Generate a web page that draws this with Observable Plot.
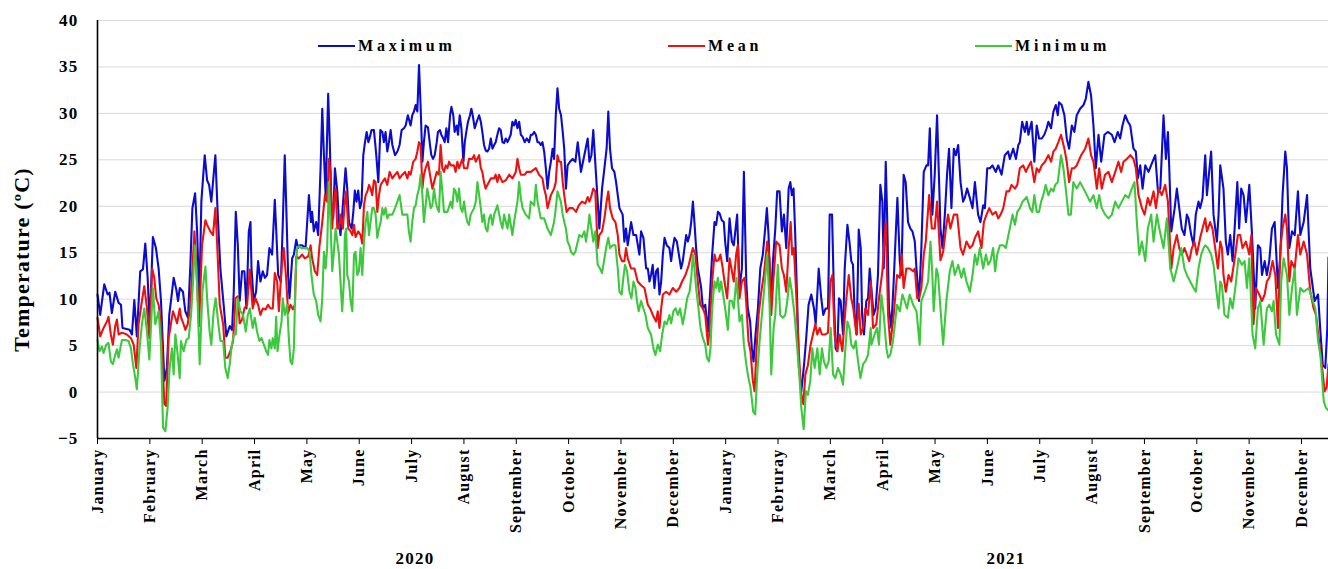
<!DOCTYPE html>
<html>
<head>
<meta charset="utf-8">
<script src="https://cdn.jsdelivr.net/npm/d3@7"></script>
<script src="https://cdn.jsdelivr.net/npm/@observablehq/plot@0.6"></script>
<style>
  body { margin: 0; background: #fff; }
  #wrap { position: relative; width: 1328px; height: 569px; background: #fff; }
  .leg { position: absolute; top: 36px; height: 20px; display: flex; align-items: center;
         font: bold 16px "Liberation Serif", "Times New Roman", serif; letter-spacing: 3.8px;
         color: #000; white-space: nowrap; }
  .leg .sw { display: inline-block; width: 37px; height: 2px; margin-right: 3px; }
</style>
</head>
<body>
<div id="wrap"></div>
<script>
// ---------- tick labels ----------
const monthLabels = ["January","February","March","April","May","June","July","August","September","October","November","December",
                     "January","Februray","March","April","May","June","July","August","September","October","November","December"];
const monthTicks = [0,31,62,93,124,155,186,217,248,279,310,341,372,403,434,465,496,527,558,589,620,651,682,713];
const yTicks = [-5,0,5,10,15,20,25,30,35,40];
const yearLabels = ["2020","2021"];
const yearTicks = [188,538];
const seriesNames = ["Maximum","Mean","Minimum"];
const seriesColors = ["#0c0ccc","#ec1212","#3ec83e"];

// ---------- series values: [day index, temperature °C] ----------
const maximum = [[0,10.5],[1.6,8.3],[4,11.6],[6,10.5],[7.1,10.7],[8.5,8.5],[10.5,10.8],[12.5,9.6],[13.9,9.4],[14.8,6.9],[19,6.7],[20.4,6.2],[21.8,9.9],[23.3,6],[25.3,13],[26.9,13.2],[28.3,16],[29.7,12.3],[30.9,7.1],[32.8,16.7],[34.6,15.5],[36.2,13.3],[37.6,9.8],[39.6,1.2],[41.1,2.6],[42.5,8.3],[43.7,10.1],[45.1,12.3],[46.7,11],[47.7,9.8],[48.7,11.2],[50.6,10.8],[52,8.7],[53.6,8],[55,13.7],[56.2,19.8],[57.8,21.4],[59,17.3],[60.3,9.8],[61.5,20.5],[63.5,25.5],[64.9,22.8],[66.1,22.3],[67.4,20.5],[69.8,25.5],[71.2,19.1],[72.8,13.2],[74.7,9.4],[76.3,6],[78.3,7.1],[79.7,6.7],[80.7,10.8],[81.9,19.4],[83.1,15.8],[84.2,9.8],[85.6,13],[87,13],[88.2,9],[89.6,17.3],[90.6,18.3],
[91.2,13.3],[92.5,9.8],[93.9,10.8],[95.1,14.1],[96.5,11.9],[97.9,13],[99.1,12.3],[100.4,12.6],[101.8,15.5],[103.4,14.8],[105,20.7],[105.8,17.6],[107,12.6],[108.6,11.9],[109.7,18],[110.9,25.5],[111.7,20.5],[112.9,12.6],[113.7,10.1],[115.3,14.4],[116.3,14.8],[117.7,16.4],[118.8,15.5],[119.8,15.8],[121.2,15.8],[123.2,15.5],[125.2,21.2],[126.4,18.3],[127.1,19.4],[128.1,17.3],[129.5,18.3],[130.7,16.9],[132.1,24.1],[133.1,30.5],[134.1,25.5],[135.1,21.2],[136.6,32.1],[137.6,26.6],[138.6,19.1],[139.6,18.7],[140.6,24.1],[142,21.6],[143,18.3],[143.9,16.9],[144.9,19.1],[145.9,21.6],[146.9,24.1],[147.9,21.9],[148.9,18.3],[150.5,17.6],[151.5,19.4],[152.4,21.7],[153.4,20.5],[154.4,21.7],[155.4,19.8],[156.4,20.5],[157.4,25.5],[158.4,26.9],[159.4,28],[160.4,26.9],[161.1,27.3],[162.3,28.2],[163.7,28.2],[165.1,25.5],[166.3,22.6],[167.5,28.2],[168.7,28],[169.6,26.9],[170.6,28],[171.6,25.9],[172.6,26.9],[173.6,28.2],[174.6,26.6],[176.2,25.5],[177.6,25.9],[178.9,26.6],[180.1,28.2],[181.5,28.4],
[182.5,28.7],[183.8,29.8],[185.4,28.7],[186.4,29.8],[187.4,30.2],[188.4,30.9],[189.4,30.2],[190.4,35.2],[191.4,30.5],[192.4,24.8],[193.3,26.9],[194.3,28.7],[195.7,28.5],[196.9,26.6],[197.7,25.5],[198.7,25.1],[199.7,25.5],[200.9,26.9],[201.6,28],[202.8,28.2],[203.6,27.7],[204.8,27.3],[205.6,26.9],[206.6,28.4],[207.6,26.9],[208.8,29.8],[209.6,30.7],[210.7,29.8],[211.5,28],[212.7,28.7],[213.5,27.7],[214.5,29.8],[215.5,28.4],[216.7,24.8],[217.5,26.9],[218.4,28],[219.4,29.1],[220.6,29.8],[221.4,30.5],[222.2,29.8],[223.4,28.4],[224.6,29.1],[226,29.8],[227,29.1],[227.9,28],[228.9,26.6],[229.9,26],[230.9,25.9],[231.9,26.2],[232.9,27.3],[233.9,26.2],[234.9,26.6],[235.8,26.9],[236.8,27.7],[237.8,28.4],[238.8,28.2],[239.8,26.9],[240.8,26.8],[241.8,27.3],[242.8,26.9],[243.8,27.3],[244.7,27.7],[245.7,29.1],[246.7,28.7],[247.7,29.3],[248.7,28.4],[249.7,29.1],[250.7,27.7],[251.7,27.5],[253,26.9],[254.2,27.3],[255.6,26.9],[256.6,27.7],[257.6,27.7],[258.6,28],[259.6,27.7],[260.6,26.9],[261.5,26.9],[262.5,26.6],[263.5,26.9],[264.5,25.9],[265.5,24.1],[266.5,21.9],[267.5,23.7],[268.5,24.8],[269.5,26.2],[270.4,25.1],[271.4,29.8],[272.4,32.7],[273.4,30.5],
[274.5,29.8],[275.5,28],[276.4,26.2],[277.4,21.9],[278.4,24.4],[279.8,24.8],[281.4,25.1],[283,24.8],[284.4,26.9],[286.3,23.7],[288.3,25.5],[290.3,27.3],[291.3,24.8],[292.5,25.5],[293.6,28.2],[295.6,22.3],[297.2,17.6],[298.8,21.9],[300.2,24.1],[301.5,26.2],[302.5,30.2],[303.5,26.2],[304.7,24.1],[306.1,23.7],[307.1,22.6],[309.1,19.8],[311,19.1],[312,16.2],[313,17.6],[314,15.8],[316,18.3],[317.4,16.9],[319,16.9],[320.9,14.8],[321.9,17.3],[323.3,16.6],[324.9,13.3],[325.9,13.3],[326.9,11.9],[327.8,12.6],[328.8,13.7],[329.8,11.2],[330.8,13],[331.8,13.3],[332.8,10.5],[333.8,11.9],[334.8,14.8],[335.8,16.6],[337.1,15.8],[338.7,15.5],[339.7,14.1],[340.7,15.5],[341.7,16.6],[343.1,16.2],[344.3,14.8],[345.6,13.3],[346.6,14.1],[347.6,15.5],[348.6,16.9],[349.6,16.2],[350.6,16.9],[351.6,18.3],[352.6,20.5],[353.5,18.3],[354.5,15.5],[355.5,13.3],[356.5,12.3],[357.5,11.2],[358.5,9],[359.9,9.4],[361.5,6.5],[362.8,10.8],[364,14.8],[365.4,18.3],
[366.4,18],[367.4,19.4],[368.5,19.2],[369.7,18.5],[370.9,18.3],[371.7,16.2],[372.9,14.1],[374.3,18.7],[375.7,16.2],[376.8,15.8],[378.8,19.1],[380.2,11.2],[381.6,13.3],[382.8,23.7],[384.2,11.9],[385.1,9],[386.5,7.6],[387.5,4.7],[388.5,3.3],[389.7,6.2],[391.1,9],[392.5,13.3],[394,14.8],[395.4,17.6],[396.4,19.8],[397.4,16.9],[398.6,9],[400,14.1],[401.4,17.6],[402.5,21.6],[403.9,21.6],[405.3,17.3],[406.5,19.1],[407.9,15.5],[409.3,21.9],[410.3,22.6],[411.2,21.2],[412.2,21.9],[413.2,16.9],[414.4,9.4],[415.4,2.6],[416.8,0.1],[418.4,2.9],[419.7,5.8],[421.1,9.4],[422.7,10.5],[424.3,9],[425.3,7.3],[427.1,13.3],[428.6,10.1],[429.8,8.3],[431.2,9],[432.6,9],[433.6,19.1],[435,19.1],[436.2,9.8],[437.1,4.7],[438.1,4.4],[439.1,10.1],[440.1,9.8],[441.5,6.2],[442.5,13.3],[444.1,18],[445.3,16.2],[446.4,14.1],[447.4,13.7],[448.4,8.3],[449.6,6.2],[450.8,17.5],[452,15.5],[452.8,8.3],[453.9,6.2],[455.3,9.8],[456.3,10.1],[457.3,13.3],
[458.9,9.8],[459.6,8.3],[460.8,9],[462.2,12.6],[463.6,22.3],[464.8,20.5],[465.6,13.3],[466.8,24.8],[467.6,19.1],[468.7,9],[470.1,6.9],[471.5,11.9],[472.7,16.9],[473.7,20.9],[475.1,14.1],[476.1,12.6],[477.4,23.4],[478.6,22.6],[480,18.3],[481.4,17.6],[482.6,17.3],[484,16.2],[485,13.3],[486.5,9.8],[487.9,15.5],[489.3,23.7],[490.9,24.4],[491.9,24.4],[492.9,28.4],[494.4,19.1],[495.8,23.4],[497.2,29.8],[498.4,22.6],[499.2,17.6],[500.4,15.5],[501.8,19.1],[503.1,23.4],[504.3,26.2],[505.7,19.8],[507.1,26.2],[508.3,25.5],[509.7,26.6],[511.1,22.6],[512.6,20.5],[513.6,20.9],[515,21.9],[516.6,20.9],[518.2,19.8],[519.6,22.6],[521.5,19.1],[522.9,18.3],[524.5,20.1],[525.5,19.8],[526.9,24.1],[528.5,24.1],[530,24.4],[532,23.7],[533.4,24.4],[535.4,23.4],[537.3,25.5],[539.3,25.9],[540.3,25.1],[542.3,26.2],[543.9,25.1],[545.3,26.6],[546.2,26.9],[547.6,29.1],[549.2,28],
[550.3,29.1],[551.3,27.7],[552.2,28.4],[553.2,29.1],[554.8,24.8],[556.2,28.7],[557.6,27.3],[559.2,27.3],[560.7,27.7],[562.1,28.4],[563.1,29.1],[564.7,28.4],[566.1,30.2],[567.5,30.9],[568.7,29.8],[569.4,31.2],[571,30.9],[572.6,29.8],[574,27.3],[575.4,26.2],[577,28.7],[578.5,28],[579.9,29.8],[581.9,30.5],[583.9,30.9],[585.3,31.6],[586.8,33.4],[588.4,31.9],[589.8,28.7],[591.2,24.1],[592.8,27.7],[594.4,24.8],[596.3,27.7],[598.3,28],[600.7,27.7],[602.3,26.9],[604.2,28],[605.6,27.3],[607,28.7],[608.6,29.8],[610.2,29.1],[611.6,28.7],[613.5,26.2],[614.9,25.9],[616.1,23],[617.5,24.4],[618.9,21.9],[620.5,24.4],[622.4,23.7],[624.8,24.8],[626.4,25.5],[628,21.6],[629.4,21.9],[631.3,29.8],[632.7,25.1],[633.9,28],[634.7,24.1],[635.9,17.3],[637.9,19.8],
[639.2,21.9],[640.6,19.8],[642.1,17.6],[643.7,16.9],[645.1,19.1],[646.1,18.7],[647.7,16.9],[649.1,15.8],[650.4,19.1],[652,20.5],[653,19.8],[654.4,20.9],[656,25.5],[657,21.2],[659.5,25.9],[660.9,19.1],[662.9,16.2],[663.9,19.1],[664.9,24.4],[666.8,21.9],[668.2,16.2],[669.4,14.8],[670.8,16.9],[672.2,14.1],[673.4,17.6],[675,22.6],[676.1,17.6],[677.3,21.9],[678.7,21.2],[680.1,18.3],[682.1,22.3],[683.6,17.3],[684.6,13.3],[685.6,9],[687.2,15.8],[688.6,15.5],[689.6,12.6],[691.2,14.1],[692.5,12.6],[693.9,14.1],[695.5,17.6],[697.1,18.3],[699.1,11.2],[700.5,14.8],[701.8,21.2],[703.4,25.9],[704.4,24.1],[705.8,15.5],[707.4,17.3],[709,16.9],[710.9,21.6],[712.3,16.9],[714.3,18.3],[716.3,21.2],[718.2,13.3],[720.8,9.8],[722.8,10.5],[724.2,6.5],[725.6,2.9],[727.1,2.6],[728.3,6.9],[729,14.5]];

const mean = [[0,8],[1.6,6],[3.6,6.9],[5.6,7.6],[6.5,8.1],[7.9,6.2],[9.1,5.1],[10.5,7.1],[11.5,7.8],[12.5,6.2],[14.5,6.4],[17.4,6.2],[19.8,5.8],[21.4,5.1],[23,2.6],[24.3,7.3],[26.3,9.8],[27.7,11.4],[29.3,9],[30.7,5.8],[32.4,13.3],[33.6,12.3],[34.8,10.1],[36.2,9.4],[37.6,7.3],[39.6,-1.3],[40.7,-1.5],[42.1,5.8],[43.1,6.9],[44.7,8.7],[46.1,8],[47.1,7.4],[48.7,9],[49.4,8.1],[51,7.3],[52,6.7],[53.4,7.3],[55,9.4],[56,12.6],[57.4,17.3],[58.5,13.7],[60.1,7.1],[61.9,15.8],[63.9,18.5],[64.9,18],[66.8,17.3],[68.4,16.9],[69.8,19.8],[70.8,16.2],[72.4,9.4],[74.4,7.3],[75.7,3.7],[77.1,3.7],[78.7,4.4],[80.3,5.5],[81.7,10.1],[83.1,10.3],[84.2,7.4],[85.6,7.8],[87,9],[88.6,9.4],[90.2,13.2],
[91.9,9],[93.5,10.1],[95.1,9.4],[96.5,8.3],[97.9,9],[99.5,8.9],[101,9.4],[102.4,9],[103.8,9],[105,12.8],[106.4,11.9],[107.4,8.7],[109,13.3],[110.3,15.5],[111.7,12.3],[112.9,8.5],[114.3,9.4],[115.7,8.9],[116.9,9.4],[117.7,14.6],[119.2,14.4],[121.2,14.8],[122.8,14.4],[124.8,14.6],[126.2,15.8],[127.1,14.4],[128.7,13],[130.1,12.6],[131.5,15.8],[133.1,18.3],[134.7,21.2],[136,20.5],[137,25.1],[138,23.7],[139,17.6],[140,20.5],[141,21.9],[142,17.6],[143,17.6],[143.9,19.1],[145.3,17.6],[146.5,20.5],[147.3,21.6],[148.5,17.6],[149.9,17.3],[150.9,16.9],[151.9,18],[152.8,16.7],[154.4,17.3],[155.8,16.9],[156.8,16],[157.8,20.1],[158.8,21.2],[159.8,21.6],[160.8,22.3],[161.7,21.9],[162.7,21.2],[163.7,22.8],[164.7,22.6],[165.7,19.4],[166.7,21.2],[167.7,22.3],[168.7,22.6],[170.2,23],[171.6,22.3],[173,23.7],[174.6,23],[176.2,23.4],[177.6,23.7],[178.9,23],[180.5,23.4],[182.1,23.7],
[183.5,23],[184.4,23.7],[185.4,23.4],[187,24.8],[188.4,25.1],[189.4,25.9],[190.4,26.9],[191.4,26.6],[192.4,21.9],[193.3,23.4],[194.3,24.1],[195.7,24.8],[196.9,23.4],[198.3,21.9],[199.3,22.6],[200.9,23.7],[202.2,23.4],[203.2,26.6],[204.2,24.1],[205.2,23.7],[206.2,24.4],[207.2,24.1],[208.2,24.8],[209.2,24.4],[211.1,24.4],[212.1,23.7],[213.1,24.8],[214.1,24.1],[216.1,25.1],[217.1,24.1],[219,24.1],[220,25.1],[222,25.1],[223,25.5],[224,24.8],[226,25.5],[227,24.1],[227.9,23.7],[228.9,22.6],[229.9,21.9],[230.9,22.3],[232.9,23],[234.9,23],[235.8,23.4],[236.8,22.6],[237.8,23.4],[239.8,22.6],[241.8,22.8],[243.8,23.4],[245.7,23],[247.7,23.7],[248.7,25.1],[249.7,24.1],[250.7,23.4],[253,23.4],[254.2,23.7],[256.6,23.7],[259.6,24.1],[261.5,23.4],[263.5,23],[264.5,21.9],[265.5,21.2],[266.5,19.8],[267.5,20.5],[268.5,21.2],[270.4,21.9],[271.4,22.6],[272.4,25.5],[273.4,24.8],
[274.5,24.8],[275.5,22.6],[276.4,21.2],[277.8,19.4],[279.4,19.8],[281.4,19.8],[283.4,19.4],[285,20.1],[286.9,20.5],[288.9,20.3],[290.3,21],[291.3,20.5],[292.3,21],[293.6,21.9],[294.8,21.6],[296.2,15.5],[297.2,16.9],[298.8,17.3],[300.2,18.7],[301.5,20.5],[302.5,21.6],[303.5,19.8],[305.1,18.7],[306.7,18.3],[308.1,16.9],[309.1,14.8],[310.6,14.1],[312,14.1],[313,15.5],[314,14.4],[316,13.3],[318,13.3],[319.9,11.9],[321.9,11.5],[323.9,11.2],[325.9,9.4],[327.3,9],[328.8,8.3],[330.8,7.6],[331.8,8.7],[332.8,6.9],[333.8,9],[334.8,10.5],[336.7,10.8],[338.7,10.5],[340.7,11.2],[342.7,10.8],[344.6,11.2],[346.2,11.9],[348.2,12.6],[350.2,13.7],[351.6,14.8],[352.6,15.5],[354.1,14.8],[355.5,11.9],[356.9,9.4],[358.5,9],[359.9,8.3],[361.5,5.1],[362.4,6.5],[364,11.9],[365.4,14.8],
[366.4,14.1],[367.8,14.2],[368.9,14.8],[370.3,13.3],[371.3,11.9],[372.9,10.1],[374.3,14.4],[375.7,13],[376.8,11.9],[378.2,14.8],[379.2,15.8],[380.2,10.1],[381.6,11.9],[383.2,12.3],[384.4,9],[385.5,5.5],[386.7,4.4],[388.1,1.2],[389.1,0.1],[390.3,4.7],[391.5,8.3],[393.1,10.8],[394.6,12.6],[396.6,16.2],[398,14.4],[399,8.3],[400.2,11.9],[401.9,16.2],[403.9,15.8],[405.3,13.3],[406.5,12.6],[407.9,10.8],[409.3,15.5],[410.5,18.3],[411.4,14.8],[412.4,15.5],[413.8,10.5],[415.2,4.7],[416.8,-0.3],[418,-1.3],[419.2,1.9],[420.7,2.9],[422.3,5.1],[423.7,6.2],[425.1,7.3],[426.3,6.2],[427.7,6.9],[429,6.2],[431,6.2],[432.6,6.4],[434,11.9],[435.2,12.6],[436.5,6.2],[438.1,4.4],[439.5,6.2],[441.1,4.4],[442.5,7.9],[443.5,10.1],[444.9,12.6],[446.4,10.1],[447.6,9],[449.4,6.2],[450.8,9.5],[452,6.2],[453.4,6.9],[454.7,9],[456.3,8.3],[457.9,11.9],
[459.3,6.9],[461.2,7.3],[462.8,10.1],[464.8,13],[466.8,18.3],[468.2,8.3],[469.5,5.1],[471.5,8.3],[473.5,12.6],[475.1,12.3],[476.3,14.8],[477.4,11.2],[479,13.3],[481,13.3],[483,13],[484,13.3],[485.4,10.1],[486.5,10.1],[487.9,11.2],[489.3,14.8],[490.5,16.2],[492.5,21.2],[494.1,17.6],[495.8,17.6],[497.2,20.5],[499.2,14.2],[500.8,15.1],[502.4,17.6],[503.7,19.1],[505.1,17.6],[507.1,19.1],[509.1,19.1],[511.1,15.5],[512.6,14.8],[514.6,16.2],[516.6,15.5],[518.2,15.8],[519.6,16.6],[521.5,17.3],[523.5,15.5],[524.9,18.3],[526.5,19.1],[528.1,19.8],[530,19.1],[532,19.4],[533.4,18.7],[534.8,19.1],[536.4,19.8],[538.3,21.6],[539.9,21.6],[541.3,22.3],[543.3,21.9],[544.7,22.3],[546.2,24.1],[548.2,24.4],[549.8,23.7],
[551.6,24.4],[552.8,24.8],[554.8,22.6],[556.2,24.1],[557.6,23.7],[559.2,24.4],[561.1,24.8],[563.1,25.5],[564.7,24.8],[566.1,25.9],[567.5,26.2],[569,26.9],[570.6,27.7],[572.6,26.2],[574,24.8],[575.4,22.6],[577,24.1],[578.5,24.1],[579.9,24.4],[582.5,25.5],[584.9,26.2],[586.8,27.3],[588.4,25.5],[589.8,24.8],[591.8,21.9],[593.2,24.1],[594.7,21.9],[596.7,23.4],[598.7,23.7],[600.7,22.6],[602.7,23.7],[604.6,24.8],[606.2,23.7],[607.6,24.8],[609.6,25.1],[611.6,25.5],[613.5,25.1],[614.9,24.1],[616.5,21.2],[618.5,19.8],[620.1,19.1],[622,20.9],[623.4,20.1],[625.4,21.6],[626.8,19.8],[628.4,21.9],[630.3,21.2],[632.3,22.3],[633.9,20.5],[635.9,13.3],[637.3,15.5],
[639.2,16.9],[640.6,15.5],[642.1,14.8],[643.7,15.5],[645.1,14.8],[646.5,14.1],[648.1,15.5],[649.6,16.2],[651,14.8],[653,16.6],[654.4,17.6],[656,18.7],[657,17.3],[658.9,18.3],[660.3,17.6],[661.9,15.5],[663.5,13.3],[664.9,16.2],[665.9,15.5],[666.8,12.6],[668.2,10.8],[669.8,12.6],[671.4,11.9],[673.8,14.8],[675.3,16.9],[676.7,16.9],[678.1,15.5],[680.1,16.2],[682.1,14.8],[683.3,16.9],[684.6,7.3],[686,11.2],[688,10.5],[689.6,9.8],[691.2,10.5],[692.5,11.9],[693.9,12.3],[695.9,14.1],[697.5,12.6],[699.1,6.9],[700.5,15.5],[701.8,17.6],[703.4,19.1],[704.4,17.6],[705.8,11.9],[707,14.1],[709,13.3],[710.9,16.9],[712.3,14.8],[714.3,16.2],[716.3,14.8],[718.2,10.8],[720.2,9],[721.6,8.3],[723.2,5.8],[724.8,3.3],[726.7,0.1],[727.9,0.5],[729,3]];

const minimum = [[0,5.6],[1.2,4.4],[2.6,4.9],[3.6,4.2],[5.2,5.1],[6.5,5.3],[7.9,3.3],[9.1,3],[10.5,4],[11.5,4.6],[12.5,3.7],[13.5,4.7],[14.5,5.6],[16.4,5.6],[18.4,5.5],[19.8,4.7],[21,3],[22.4,1.5],[23.3,0.3],[24.9,4.7],[26.3,7.3],[27.7,9],[29.3,6.5],[30.7,3.5],[32.8,11.2],[34.2,7.3],[36.2,8.7],[37.6,5.1],[38.8,-3.8],[40.2,-4.2],[41.5,-1.7],[42.7,2.6],[44.1,4.7],[45.1,1.9],[46.1,6.2],[47.5,4],[48.7,1.5],[49.4,5.5],[51,4.4],[52.6,5.6],[54,5.8],[55.4,8.3],[56.6,11.9],[57.6,15.8],[59,11.5],[60.5,3],[62.1,10.8],[63.9,13.5],[64.9,10.1],[66.4,6.5],[67.4,5.1],[68.8,8.7],[70,10.1],[71.4,7.6],[72.8,5.5],[74.4,5.5],[75.7,2.6],[77.1,1.5],[78.3,3],[79.3,4.7],[80.7,6.2],[81.9,6.2],[83.1,10.1],[84.6,8.7],[86.2,8.3],[87.8,6.5],[89,8.3],[90.2,9],
[91.9,6.9],[93.1,8],[94.5,6.5],[95.9,5.5],[97.1,5.8],[98.5,5.1],[99.9,4.4],[101,4],[101.8,5.6],[103,4.7],[103.8,5.8],[105,4.7],[105.8,8.1],[106.6,4.4],[107.8,6.2],[109,7.6],[109.7,10.1],[110.9,8.3],[112.3,9.4],[113.3,5.8],[114.3,3.3],[115.3,3],[116.3,4.7],[117.3,12.6],[118.2,15.5],[119.2,15.7],[120.8,15.5],[122.2,15.5],[124.2,15.5],[125.6,15.1],[126.7,12.6],[128.1,10.5],[129.5,9.8],[130.7,8.3],[132.1,7.6],[133.1,10.1],[134.1,15.1],[135.1,13.3],[136,15.5],[137,22.6],[138,18.3],[139,13],[140,15.1],[141,17.6],[142,16.2],[143,14.8],[143.9,11.9],[144.9,8.7],[145.9,11.9],[146.5,16.9],[147.3,17.6],[147.9,12.6],[148.9,11.9],[149.9,9.8],[150.9,8.7],[151.9,14.8],[152.8,15.1],[153.8,12.6],[154.8,13],[155.8,15.5],[156.8,12.6],[157.8,16.2],[158.8,18.3],[159.8,19.4],[160.8,16.9],[161.7,18.3],[162.7,19.8],[163.7,19.8],[164.7,19.1],[165.7,16.6],[166.7,17.6],[167.7,18.3],[168.7,19.8],[169.6,19.1],[170.6,19.8],[171.6,18.7],[172.6,19.1],[174.6,19.1],[176.2,19.8],[177.6,20.5],[178.9,21.2],[180.5,19.1],
[183.5,19.1],[184.4,17.3],[185.4,16.2],[186.4,18.3],[187.4,19.8],[188.4,20.1],[189.4,21.2],[190.4,21.9],[191.4,23.4],[192.4,21.2],[193.3,18.3],[194.3,20.1],[195.3,21.9],[196.3,20.9],[197.3,19.8],[198.3,20.1],[199.3,21.9],[200.3,20.5],[201.2,19.8],[202.2,19.4],[203.2,23.7],[204.2,21.6],[205.2,19.4],[207.2,19.4],[209.2,20.5],[210.1,19.8],[211.1,21.9],[212.1,21.6],[213.1,20.5],[214.1,21.9],[215.1,19.8],[216.1,19.4],[217.1,20.5],[218.1,19.1],[219,18.3],[220,18],[221,19.1],[223,19.8],[224,20.5],[225,22.6],[226,21.2],[227,19.8],[227.9,18.3],[228.9,19.1],[229.9,17.6],[230.9,17.3],[231.9,18.7],[232.9,19.1],[233.9,18],[234.9,19.1],[236.8,20.1],[238.8,18.3],[239.8,17.6],[240.8,19.1],[242.8,17.6],[243.8,19.1],[245.7,16.9],[246.7,18.3],[248.7,20.5],[249.7,22.6],[250.7,20.9],[251.7,19.8],[253.6,19.1],[255.6,18.7],[256.6,20.5],[258.6,20.1],[259.6,22.3],[260.6,20.5],[262.5,18.7],[264.5,18.7],[266.5,17.6],[268.5,16.9],[270.4,18.3],[271.4,19.8],[272.4,21.6],[274.4,20.5],
[275.5,19.1],[276.4,18.3],[277.4,17.6],[278.4,16.2],[279.4,15.8],[280.4,15.1],[281.8,14.8],[283,15.1],[284.4,16.2],[285.3,16.9],[286.9,16.7],[288.3,17.3],[289.3,16.2],[290.7,18],[291.3,19.1],[292.5,17.6],[293.6,16.2],[294.8,17.3],[296.2,13.7],[297.6,13.3],[298.8,12.8],[300.2,14.4],[301.5,15.8],[302.5,16.6],[303.5,15.5],[305.1,15.8],[306.7,15.8],[308.1,13.3],[309.1,10.8],[310.4,10.5],[311.4,12.3],[312.4,13.7],[313.6,13],[315,10.8],[316.2,10.1],[317.4,11.9],[318.6,11.2],[319.5,9.8],[320.5,8.7],[321.9,9.8],[323.3,9],[324.5,8.3],[325.9,6.9],[327.8,6.2],[329.2,4.7],[330.4,4],[331.8,5.1],[333.2,4.4],[334.4,6.2],[335.8,7.6],[337.1,7.3],[338.7,8.3],[339.7,7.4],[341.1,8.7],[342.3,9],[343.7,8.3],[345,9],[346.6,7.3],[348,8.7],[349.2,10.1],[350.6,10.8],[351.6,12.3],[352.6,14.8],[353.5,13.3],[354.5,11.2],[355.9,9],[357.1,6.9],[358.5,5.8],[359.9,5.1],[360.9,3.7],[362.1,3.3],[363,4.7],[364,9],[365.4,11.9],
[366.4,11.2],[367.4,12.3],[368.3,10.8],[369.3,11.9],[370.5,10.5],[371.7,9],[373.3,6.7],[374.3,9.8],[375.7,9.8],[376.8,9],[378.4,12.3],[380.2,7.6],[381.6,8.3],[382.8,5.1],[384.2,3],[385.5,1.5],[386.7,0.5],[388.3,-2.1],[389.5,-2.4],[390.7,1.9],[392.1,5.5],[394,9.4],[395.4,12.3],[396.6,14.8],[398,9.4],[399,1.9],[400.4,6.9],[401.4,8.3],[402.9,13.7],[404.3,8.3],[405.9,8],[407.3,8.3],[408.5,9.8],[409.9,12.3],[411.2,10.8],[412.8,8.3],[414.4,4.7],[415.6,1.9],[416.8,-1.7],[418.2,-4],[419.5,0.1],[420.7,-0.3],[422.1,1.2],[423.3,4.7],[424.7,2.6],[426.3,4.7],[427.7,1.9],[429,4.7],[430.2,3.3],[431.6,2.6],[433,3.3],[434.2,6.9],[435.6,1.9],[436.9,1.5],[438.5,2.6],[440.1,1.9],[441.5,0.8],[442.9,4.7],[444.1,7.6],[445.3,6.9],[446.4,5.1],[447.8,4.7],[449,5.5],[450.4,3.3],[451.8,1.5],[453.4,3],[454.7,3.3],[456.3,4],[457.9,6.9],
[458.3,5.1],[460.2,6.2],[461.6,6.9],[462.8,5.1],[464.2,10.5],[465.6,8.3],[467.2,4.7],[468.2,3.7],[469.5,4],[471.1,5.5],[473.5,9.4],[475.1,8.7],[476.7,10.5],[478,9.8],[479.4,9],[481,10.5],[483,9.4],[485,8.7],[486.9,5.1],[487.9,9.8],[489.9,10.8],[491.9,11.9],[493.3,16.2],[494.4,12.6],[495.2,8.7],[496.8,13.3],[497.8,12.6],[499.2,9],[500.8,5.1],[502.7,9.8],[504.7,13],[506.3,14.1],[507.7,12.6],[509.7,13.7],[511.6,12.3],[513,13.3],[514.6,11.9],[516.6,10.8],[518.2,12.6],[519.6,14.8],[520.9,13.7],[522.5,15.5],[524.5,13.3],[526.1,14.8],[527.5,13.7],[528.8,14.1],[530.4,15.5],[531.6,13],[532.8,14.8],[534.4,15.8],[536.4,15.8],[537.9,15.5],[539.9,17.3],[541.9,19.1],[543.3,18],[544.7,19.4],[546.2,19.8],[547.8,20.5],
[550.3,21],[552.2,19.8],[553.6,19.4],[554.8,21.2],[556.2,19.4],[557.6,19.4],[558.8,20.5],[560.1,21.2],[561.5,22.3],[563.1,21.2],[564.7,21.9],[566.1,21.6],[567.1,22.3],[568.7,22.6],[570.6,25.5],[572,24.1],[573.4,21.9],[575,19.1],[576.4,19.1],[577.9,22.6],[579.9,21.9],[581.9,22.6],[583.9,21.9],[585.9,21.2],[587.8,20.5],[589.8,21.2],[591.8,19.8],[593.2,21.2],[594.7,19.8],[596.7,19.1],[598.7,18.7],[600.7,19.1],[602.7,20.5],[604.6,19.8],[606.6,20.5],[608.6,21.2],[610.6,20.9],[612.5,21.9],[614.1,22.6],[615.5,18.3],[616.9,14.8],[618.5,16.2],[620.5,14.1],[622,17.6],[624,19.1],[625.4,16.2],[627.4,19.1],[628.8,17.6],[631.3,15.5],[633.3,18.7],[635.3,13.3],[637.3,11.9],[639.2,13.3],[641.8,15.5],
[643.7,13.3],[645.1,12.6],[647.1,11.9],[649.1,11.2],[650.4,10.8],[652,13.3],[653.6,14.8],[655,15.5],[656,15.8],[657.6,15.5],[659.5,14.8],[660.9,13.7],[662.9,10.5],[663.9,9],[664.9,11.9],[665.9,11.5],[667.4,8.3],[669.4,8],[670.8,10.1],[672.2,9],[673.8,11.2],[675.7,14.4],[677.7,13.7],[679.3,14.1],[680.7,11.2],[682.1,14.4],[684,6.2],[685.6,4.7],[687.2,9],[688.6,9.8],[690.6,5.1],[692.5,9],[693.9,9.4],[695.5,8.7],[696.5,9.8],[697.9,6.2],[699.9,5.1],[701,11.9],[702.4,14.4],[704.4,12.6],[705.8,8.3],[707.4,11.2],[709,13.3],[710.3,8.3],[712.3,11.2],[714.3,10.8],[717.3,11.2],[719.2,10.1],[721.2,9],[722.8,5.5],[724.2,4],[726.2,-1],[727.5,-1.7],[729,-2]];

// ---------- build table ----------
const rows = [];
[maximum, mean, minimum].forEach((s, k) => s.forEach(([d, v]) => rows.push({series: seriesNames[k], day: d, temp: v})));

const serif = '"Liberation Serif", "Times New Roman", Times, serif';

const chart = Plot.plot({
  width: 1328,
  height: 569,
  marginLeft: 97,
  marginRight: 0,
  marginTop: 20,
  marginBottom: 131,
  style: {fontFamily: serif, fontWeight: "bold", fontSize: "16px", background: "#fff", color: "#000", overflow: "visible"},
  x: {domain: [0, 729]},
  y: {domain: [-5, 40]},
  color: {domain: seriesNames, range: seriesColors},
  marks: [
    Plot.gridY({ticks: yTicks.filter(t => t > -5), stroke: "#d9d9d9", strokeOpacity: 1, strokeWidth: 1}),
    Plot.line(rows, {x: "day", y: "temp", z: "series", stroke: "series", strokeWidth: 2.1, strokeLinejoin: "round"}),
    Plot.ruleX([0], {stroke: "#000", strokeWidth: 1.6}),
    Plot.ruleY([-5], {stroke: "#000", strokeWidth: 1.4}),
    Plot.axisY({ticks: yTicks, tickSize: 0, tickPadding: 19, fontSize: 17, label: null}),
    Plot.axisX({ticks: monthTicks, tickFormat: d => monthLabels[monthTicks.indexOf(d)], tickRotate: -90, tickSize: 6, tickPadding: 4, label: null}),
    Plot.axisX({ticks: yearTicks, tickFormat: d => yearLabels[yearTicks.indexOf(d)], tickSize: 0, tickPadding: 113, fontSize: 17, label: null}),
    Plot.text(["Temperature (ºC)"], {text: d => d, frameAnchor: "left", textAnchor: "middle", dx: -76, dy: 30, rotate: -90, fontSize: 22, fontWeight: "bold", fill: "#000"})
  ]
});

d3.select(chart).selectAll("text").attr("letter-spacing", "1.2px");

const wrap = document.getElementById("wrap");
wrap.appendChild(chart);

// legend (inside the plot area, as in the reference)
const legendLeft = [318, 668, 975];
seriesNames.forEach((name, i) => {
  const item = document.createElement("div");
  item.className = "leg";
  item.style.left = legendLeft[i] + "px";
  item.innerHTML = `<span class="sw" style="background:${seriesColors[i]}"></span><span>${name}</span>`;
  wrap.appendChild(item);
});
</script>
</body>
</html>
